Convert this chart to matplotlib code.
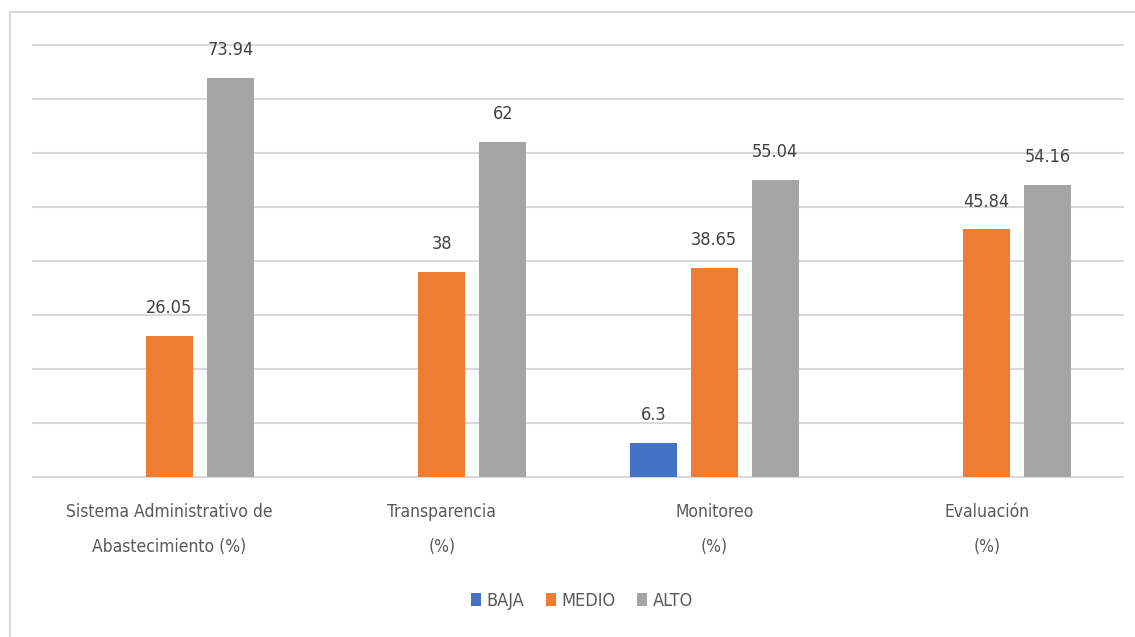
import numpy as np
import matplotlib
matplotlib.use("Agg")
import matplotlib.pyplot as plt
from matplotlib.patches import Rectangle

plt.rcParams["font.family"] = ["DejaVu Sans"]
plt.rcParams["font.stretch"] = "condensed"

categorias = ["Sistema Administrativo de\nAbastecimiento (%)", "Transparencia\n(%)",
              "Monitoreo\n(%)", "Evaluación\n(%)"]
series = ["BAJA", "MEDIO", "ALTO"]
baja = [None, None, 6.3, None]
medio = [26.05, 38, 38.65, 45.84]
alto = [73.94, 62, 55.04, 54.16]
colores = ["#4472C4", "#ED7D31", "#A5A5A5"]

fig = plt.figure(figsize=(11.35, 6.37), dpi=100)
ax = fig.add_axes([33 / 1135, 1 - 477 / 637, (1123 - 33) / 1135, (477 - 45) / 637])

# marco del grafico
fig.add_artist(Rectangle((10 / 1135, -0.05), 1.2, 1 - 12 / 637 + 0.05, transform=fig.transFigure,
                         fill=False, edgecolor="#d9d9d9", linewidth=1.5))

x = np.arange(len(categorias))
paso = 0.224
ancho = 0.172
for i, (nombre, valores) in enumerate(zip(series, [baja, medio, alto])):
    xs = [xi + (i - 1) * paso for xi, v in zip(x, valores) if v is not None]
    vs = [v for v in valores if v is not None]
    ax.bar(xs, vs, width=ancho, color=colores[i], label=nombre, zorder=3)
    for xi, v in zip(xs, vs):
        ax.text(xi, v + 3.5, f"{v:g}", ha="center", va="bottom", fontsize=13, color="#404040")

ax.set_xlim(-0.5, len(categorias) - 0.5)
ax.set_ylim(0, 80)
ax.set_yticks(np.arange(0, 81, 10))
ax.set_yticklabels([])
ax.tick_params(axis="y", length=0)
ax.tick_params(axis="x", length=0, pad=19)
ax.set_xticks(x)
ax.set_xticklabels(categorias, fontsize=12.5, color="#595959", linespacing=2.2)
ax.grid(axis="y", color="#d9d9d9", linewidth=1.5, zorder=0)
for linea in ax.get_ygridlines():
    linea.set_clip_on(False)
for s in ax.spines.values():
    s.set_visible(False)

fig.legend(loc="center", bbox_to_anchor=(582 / 1135, 1 - 601 / 637), ncol=3, frameon=False,
           fontsize=13, labelcolor="#595959", handlelength=0.55, handleheight=0.7,
           handletextpad=0.3, columnspacing=1.2)

plt.savefig("out.png", dpi=100)
